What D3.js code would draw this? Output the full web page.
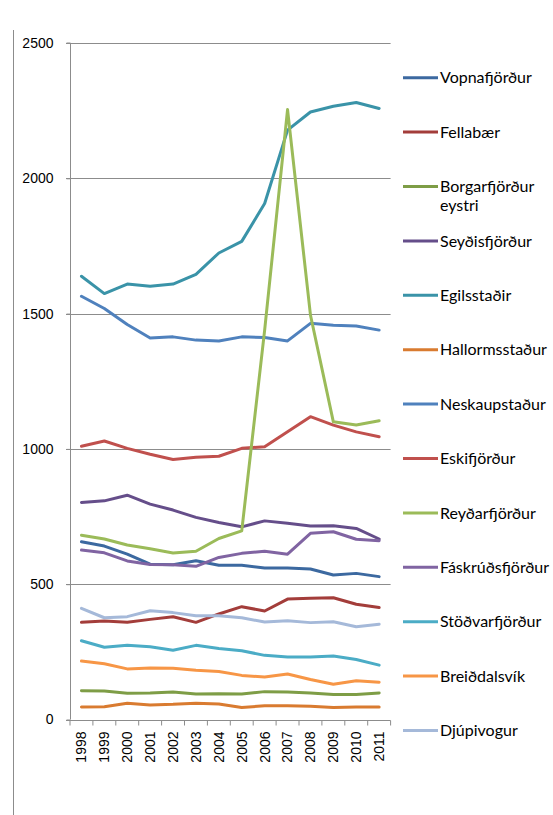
<!DOCTYPE html>
<html>
<head>
<meta charset="utf-8">
<script src="https://cdn.jsdelivr.net/npm/d3@7"></script>
<style>
  body { margin: 0; background: #fff; }
  .axis text { font-family: "Liberation Sans", Arial, sans-serif; font-size: 14px; fill: #000; }
  .legend text { font-family: Lato, "Open Sans", sans-serif; font-size: 16px; fill: #000; }
</style>
</head>
<body>
<svg id="chart" width="553" height="815"></svg>
<script>
// years along the bottom
var years = ["1998","1999","2000","2001","2002","2003","2004","2005","2006","2007","2008","2009","2010","2011"];
var yTicks = [0, 500, 1000, 1500, 2000, 2500];

var names = ["Vopnafjörður","Fellabær","Borgarfjörður eystri","Seyðisfjörður","Egilsstaðir","Hallormsstaður",
  "Neskaupstaður","Eskifjörður","Reyðarfjörður","Fáskrúðsfjörður","Stöðvarfjörður","Breiðdalsvík","Djúpivogur"];

var vopnafjordur   = [657,641,611,574,572,587,570,570,560,560,556,534,540,528];
var fellabaer      = [359,364,359,370,380,359,390,417,401,445,448,450,426,414];
var borgarfjordur  = [106,105,97,98,102,94,95,94,103,102,98,92,92,98];
var seydisfjordur  = [802,808,829,796,774,747,728,712,734,725,715,716,706,667];
var egilsstadir    = [1638,1574,1609,1601,1609,1645,1724,1767,1907,2178,2245,2266,2280,2258];
var hallormsstadur = [46,47,60,54,56,60,57,44,51,51,49,44,46,46];
var neskaupstadur  = [1564,1519,1460,1410,1414,1402,1399,1414,1412,1399,1464,1457,1454,1439];
var eskifjordur    = [1010,1029,1002,980,961,969,973,1002,1008,1063,1119,1088,1063,1045];
var reydarfjordur  = [681,667,645,631,615,622,669,697,1439,2254,1495,1100,1088,1104];
var faskrudsfjordur= [626,616,586,573,572,566,599,614,622,611,688,694,666,661];
var stodvarfjordur = [291,267,274,269,256,274,262,254,237,231,231,235,222,201];
var breiddalsvik   = [216,206,187,190,189,182,177,163,157,168,148,130,143,138];
var djupivogur     = [411,376,380,402,395,383,383,376,360,365,358,361,343,352];

var colors = ["#3c69a0","#a33d3a","#7e9d46","#654e8a","#3a93a8","#d97b30",
  "#4f81bd","#c0504d","#9bbb59","#8064a2","#4bacc6","#f79646","#a5b9d9"];

var allSeries = [vopnafjordur, fellabaer, borgarfjordur, seydisfjordur, egilsstadir, hallormsstadur,
  neskaupstadur, eskifjordur, reydarfjordur, faskrudsfjordur, stodvarfjordur, breiddalsvik, djupivogur];

var svg = d3.select("#chart");
var plotLeft = 70, plotRight = 390.6, plotTop = 43, plotBottom = 719.5;

var x = d3.scaleBand().domain(years).range([plotLeft, plotRight]);
var y = d3.scaleLinear().domain([0, 2500]).range([plotBottom, plotTop]);

// outer chart border (left edge only visible)
svg.append("line").attr("x1", 13.5).attr("x2", 13.5).attr("y1", 30).attr("y2", 815)
  .attr("stroke", "#8c8c8c").attr("stroke-width", 1);

// gridlines
svg.append("g").selectAll("line").data(yTicks.slice(1)).enter().append("line")
  .attr("x1", plotLeft - 4).attr("x2", plotRight)
  .attr("y1", function(d) { return Math.round(y(d)) + 0.5; })
  .attr("y2", function(d) { return Math.round(y(d)) + 0.5; })
  .attr("stroke", "#8c8c8c").attr("stroke-width", 1);

// y axis
var yAxis = svg.append("g").attr("class", "axis")
  .attr("transform", "translate(" + (plotLeft + 0.5) + ",0)")
  .call(d3.axisLeft(y).tickValues(yTicks).tickFormat(d3.format("d")).tickSize(4).tickPadding(13));
yAxis.select(".domain").attr("stroke", "#8c8c8c").attr("d", "M-4," + plotTop + "H0V" + plotBottom);
yAxis.selectAll(".tick line").attr("stroke", "#8c8c8c");

// x axis
var xAxis = svg.append("g").attr("class", "axis")
  .attr("transform", "translate(0," + (Math.round(plotBottom) + 0.5) + ")")
  .call(d3.axisBottom(x).tickSize(0).tickPadding(0));
xAxis.select(".domain").attr("stroke", "#8c8c8c").attr("d", "M" + (plotLeft - 4) + ",0H" + plotRight);
xAxis.selectAll(".tick text")
  .attr("transform", "rotate(-90)")
  .attr("text-anchor", "end")
  .attr("x", -11).attr("y", 0).attr("dy", "0.35em");
// category boundary ticks
xAxis.append("g").selectAll("line").data(d3.range(years.length + 1)).enter().append("line")
  .attr("x1", function(i) { return plotLeft + i * x.step(); })
  .attr("x2", function(i) { return plotLeft + i * x.step(); })
  .attr("y1", 0).attr("y2", 5)
  .attr("stroke", "#8c8c8c");

// lines
var line = d3.line()
  .x(function(d, i) { return x(years[i]) + x.bandwidth() / 2; })
  .y(function(d) { return y(d); });

svg.append("g").selectAll("path").data(allSeries).enter().append("path")
  .attr("d", line)
  .attr("fill", "none")
  .attr("stroke", function(d, i) { return colors[i]; })
  .attr("stroke-width", 3)
  .attr("stroke-linejoin", "round")
  .attr("stroke-linecap", "round");

// legend
var legend = svg.append("g").attr("class", "legend");
var item = legend.selectAll("g").data(names).enter().append("g")
  .attr("transform", function(d, i) { return "translate(403," + (77.7 + i * 54.4) + ")"; });
item.append("line").attr("x1", 0).attr("x2", 35)
  .attr("stroke", function(d, i) { return colors[i]; })
  .attr("stroke-width", 3);
item.each(function(d) {
  var t = d3.select(this).append("text").attr("x", 37).attr("dy", "0.35em");
  if (d == "Borgarfjörður eystri") {
    t.text("Borgarfjörður");
    d3.select(this).append("text").attr("x", 37).attr("y", 18.5).attr("dy", "0.35em").text("eystri");
  } else {
    t.text(d);
  }
});
</script>
</body>
</html>
